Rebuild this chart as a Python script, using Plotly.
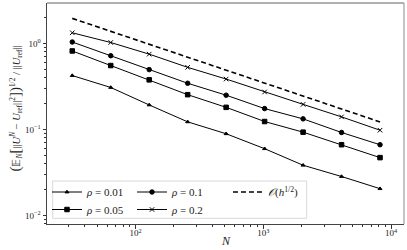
import plotly.graph_objects as go

N = [32, 64, 128, 256, 512, 1024, 2048, 4096, 8192]
err_rho_001 = [0.424, 0.308, 0.193, 0.1227, 0.0892, 0.0598, 0.0384, 0.0284, 0.0205]
err_rho_005 = [0.819, 0.554, 0.378, 0.254, 0.181, 0.1238, 0.0931, 0.0665, 0.0471]
err_rho_01 = [1.041, 0.721, 0.497, 0.345, 0.2505, 0.175, 0.1329, 0.0923, 0.0665]
err_rho_02 = [1.333, 1.027, 0.752, 0.528, 0.386, 0.273, 0.196, 0.1402, 0.0981]
ref_rate = [1.96, 1.386, 0.98, 0.693, 0.49, 0.3465, 0.245, 0.1733, 0.1225]

x_tickvals = [100, 1000, 10000]
x_ticktext = ["10<sup>2</sup>", "10<sup>3</sup>", "10<sup>4</sup>"]
y_tickvals = [0.01, 0.1, 1]
y_ticktext = ["10<sup>−2</sup>", "10<sup>−1</sup>", "10<sup>0</sup>"]

FONT = "Liberation Serif"
fig = go.Figure()

def add(y, name, symbol, size, legend, lw_entry, dash="solid", width=1.0, mode="lines+markers"):
    fig.add_trace(go.Scatter(
        x=N, y=y, name=name, mode=mode, legend=legend, legendwidth=lw_entry,
        line=dict(color="black", width=width, dash=dash),
        marker=dict(symbol=symbol, size=size, color="black",
                    line=dict(color="black", width=1)),
    ))

add(err_rho_001, "<i>ρ</i> = 0.01", "triangle-up", 3.5, "legend", 40)
add(err_rho_01, "<i>ρ</i> = 0.1", "circle", 4.5, "legend", 51)
add(ref_rate, "<i>𝒪</i>(<i>h</i><sup>1/2</sup>)", "circle", 1, "legend", 40,
    dash="5px,3px", width=1.6, mode="lines")
add(err_rho_005, "<i>ρ</i> = 0.05", "square", 4.5, "legend2", 40)
add(err_rho_02, "<i>ρ</i> = 0.2", "x-thin-open", 4.5, "legend2", 51)

L, R, T, B = 47, 3, 3, 26
W, H = 407, 250
pw, ph = W - L - R, H - T - B

def px_x(p):
    return (p - L) / pw

def px_y(p):
    return (H - B - p) / ph

minor_x = [d * 10 ** e for e in range(1, 5) for d in range(2, 10)]
minor_y = [d * 10.0 ** e for e in range(-3, 1) for d in range(2, 10)]

fig.update_layout(
    width=W, height=H,
    margin=dict(l=L, r=R, t=T, b=B, autoexpand=False),
    paper_bgcolor="white", plot_bgcolor="white",
    font=dict(family=FONT, size=10, color="#222"),
    legend=dict(orientation="h", x=0, y=px_y(192), xanchor="left", yanchor="middle",
                bgcolor="rgba(0,0,0,0)", borderwidth=0, font=dict(size=11, family=FONT),
                itemwidth=30, tracegroupgap=0),
    legend2=dict(orientation="h", x=0, y=px_y(209.5), xanchor="left", yanchor="middle",
                 bgcolor="rgba(0,0,0,0)", borderwidth=0, font=dict(size=11, family=FONT),
                 itemwidth=30, tracegroupgap=0),
    showlegend=True,
)

fig.update_xaxes(
    type="log", range=[1.3075, 4.101], tickvals=x_tickvals, ticktext=x_ticktext,
    ticks="outside", ticklen=3.5, tickwidth=0.8, tickcolor="#333",
    showline=True, linecolor="#444", linewidth=1, mirror=False,
    showgrid=False, zeroline=False, tickfont=dict(size=9, family=FONT),
    ticklabelstandoff=-3,
    minor=dict(tickvals=minor_x, ticks="outside", ticklen=2, tickwidth=0.6,
               tickcolor="#333", showgrid=False),
    automargin=False,
)
fig.update_yaxes(
    type="log", range=[-2.099, 0.471], tickvals=y_tickvals, ticktext=y_ticktext,
    ticks="outside", ticklen=3.5, tickwidth=0.8, tickcolor="#333",
    showline=True, linecolor="#444", linewidth=1, mirror=False,
    showgrid=False, zeroline=False, tickfont=dict(size=9, family=FONT),
    minor=dict(tickvals=minor_y, ticks="outside", ticklen=2, tickwidth=0.6,
               tickcolor="#333", showgrid=False),
    automargin=False,
)

# axis titles
fig.add_annotation(text="<i>N</i>", xref="paper", yref="paper",
                   x=px_x(225.5), y=px_y(241), xanchor="center", yanchor="middle",
                   showarrow=False, font=dict(size=12, family=FONT, color="#222"))
big = lambda c: f'<span style="font-size:15px">{c}</span>'
fig.add_annotation(
    text=(big("(") + "𝔼<sub><i>N</i></sub>" + big("[") + "||<i>U</i><sup><i>N</i></sup> − <i>U</i><sub>ref</sub>||<sup>2</sup>"
          + big("]") + big(")") + "<sup>1/2</sup> / ||<i>U</i><sub>ref</sub>||"),
    xref="paper", yref="paper", x=px_x(15), y=px_y(108.5), xanchor="center", yanchor="middle",
    textangle=-90, showarrow=False, font=dict(size=10.5, family=FONT, color="#222"))

# top and right spines (lighter)
fig.add_shape(type="line", xref="paper", yref="paper", x0=0, x1=1, y0=1, y1=1,
              line=dict(color="#b0b0b0", width=2))
fig.add_shape(type="line", xref="paper", yref="paper", x0=1, x1=1, y0=0, y1=1,
              line=dict(color="#b0b0b0", width=1.5))
# legend frame
fig.add_shape(type="rect", xref="paper", yref="paper",
              x0=px_x(52.7), x1=px_x(306.7), y0=px_y(218.3), y1=px_y(181),
              line=dict(color="#d8d8d8", width=1), fillcolor="rgba(255,255,255,0.8)",
              layer="below")

fig.write_html("out.html", config={"displayModeBar": False},
               post_script="document.body.style.margin='0';")
